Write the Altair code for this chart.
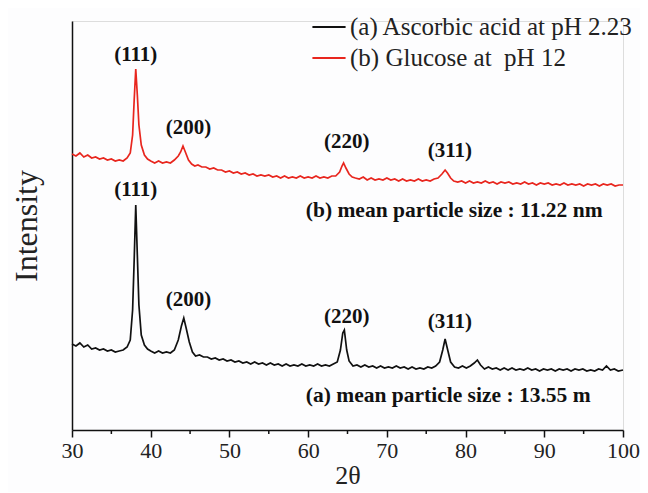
import altair as alt
import pandas as pd

# 2-theta positions and intensities (a.u.)
x_red = [30, 30.5, 31, 31.5, 32, 32.5, 33, 33.5, 34, 34.5, 35, 35.5, 36, 36.5, 37, 37.4, 37.7, 37.9, 38.1, 38.3,
         38.5, 38.8, 39.2, 39.6, 40, 40.5, 41, 41.5, 42, 42.5, 43, 43.5, 43.8, 44.1, 44.4, 44.8, 45.2, 45.6, 46, 46.5,
         47, 47.5, 48, 48.5, 49, 49.5, 50, 50.5, 51, 51.5, 52, 52.5, 53, 53.5, 54, 54.5, 55, 55.5, 56, 56.5,
         57, 57.5, 58, 58.5, 59, 59.5, 60, 60.5, 61, 61.5, 62, 62.5, 63, 63.5, 64.0, 64.3, 64.5, 64.8, 65.2, 65.6,
         66, 66.5, 67, 67.5, 68, 68.5, 69, 69.5, 70, 70.5, 71, 71.5, 72, 72.5, 73, 73.5, 74, 74.5, 75, 75.5,
         76, 76.5, 77, 77.4, 77.7, 78.1, 78.5, 79, 79.5, 80, 80.5, 81, 81.5, 82, 82.5, 83, 83.5, 84, 84.5, 85,
         85.5, 86, 86.5, 87, 87.5, 88, 88.5, 89, 89.5, 90, 90.5, 91, 91.5, 92, 92.5, 93, 93.5, 94, 94.5, 95,
         95.5, 96, 96.5, 97, 97.5, 98, 98.5, 99, 99.5, 100]
i_red = [276, 274, 277, 273, 275, 272, 273, 271, 272, 270, 271, 269, 270, 269, 272, 277, 295, 330, 361, 335,
         305, 285, 275, 271, 269, 267, 269, 267, 268, 267, 270, 274, 278, 284, 278, 270, 266, 264, 265, 263,
         263, 261, 262, 260, 260, 258, 259, 257, 258, 256, 257, 255, 256, 254, 255, 254, 255, 253, 254, 252,
         254, 252, 253, 252, 254, 252, 253, 252, 254, 252, 253, 252, 254, 254, 258, 264, 267, 262, 256, 253,
         252, 251, 253, 250, 252, 250, 251, 250, 252, 250, 251, 249, 251, 249, 250, 249, 251, 249, 250, 249,
         251, 252, 256, 260, 257, 252, 249, 248, 249, 247, 249, 247, 248, 247, 249, 247, 248, 246, 248, 247,
         248, 246, 247, 246, 248, 246, 247, 245, 247, 246, 247, 245, 246, 245, 247, 245, 246, 245, 246, 244,
         246, 245, 246, 244, 246, 245, 246, 244, 245, 245]

x_black = [30, 30.5, 31, 31.5, 32, 32.5, 33, 33.5, 34, 34.5, 35, 35.5, 36, 36.5, 37, 37.4, 37.7, 37.9, 38.1, 38.3,
           38.5, 38.8, 39.2, 39.6, 40, 40.5, 41, 41.5, 42, 42.5, 43, 43.5, 43.9, 44.2, 44.5, 44.9, 45.3, 45.7, 46.2, 46.7,
           47.2, 47.7, 48.2, 48.7, 49.2, 49.7, 50.2, 50.7, 51.2, 51.7, 52.2, 52.7, 53.2, 53.7, 54.2, 54.7, 55.2, 55.7, 56.2, 56.7,
           57.2, 57.7, 58.2, 58.7, 59.2, 59.7, 60.2, 60.7, 61.2, 61.7, 62.2, 62.7, 63.2, 63.7, 64.1, 64.4, 64.6, 64.9, 65.2, 65.7,
           66.2, 66.7, 67.2, 67.7, 68.2, 68.7, 69.2, 69.7, 70.2, 70.7, 71.2, 71.7, 72.2, 72.7, 73.2, 73.7, 74.2, 74.7, 75.2, 75.7,
           76.2, 76.7, 77.1, 77.4, 77.7, 78.1, 78.6, 79.1, 79.6, 80.1, 80.6, 81.1, 81.5, 81.9, 82.4, 82.9, 83.4, 83.9, 84.4, 84.9,
           85.4, 85.9, 86.4, 86.9, 87.4, 87.9, 88.4, 88.9, 89.4, 89.9, 90.4, 90.9, 91.4, 91.9, 92.4, 92.9, 93.4, 93.9, 94.4, 94.9,
           95.4, 95.9, 96.4, 96.9, 97.4, 97.9, 98.4, 98.9, 99.4, 100]
i_black = [86, 84, 87, 83, 85, 81, 82, 80, 81, 79, 80, 78, 79, 80, 83, 90, 120, 170, 225, 175,
           125, 95, 85, 81, 79, 77, 79, 77, 78, 77, 80, 90, 104, 112, 102, 88, 78, 74, 75, 73,
           73, 71, 72, 70, 71, 69, 70, 68, 69, 67, 68, 66, 68, 66, 67, 65, 67, 65, 66, 64,
           66, 64, 65, 64, 66, 64, 65, 64, 66, 64, 65, 64, 66, 68, 80, 97, 100, 80, 69, 64,
           65, 63, 65, 63, 64, 62, 64, 62, 63, 62, 64, 62, 63, 61, 63, 61, 62, 61, 63, 62,
           64, 68, 80, 91, 81, 68, 63, 62, 64, 62, 64, 67, 70, 65, 61, 63, 61, 62, 60, 62,
           60, 62, 60, 61, 60, 62, 60, 61, 59, 61, 60, 61, 59, 61, 60, 61, 59, 61, 60, 61,
           59, 60, 59, 61, 60, 64, 60, 61, 59, 60]

series_names = ["(a) Ascorbic acid at pH 2.23", "(b) Glucose at\u00a0 pH 12"]
series_colors = ["#111111", "#e8261e"]

label_x = [38.1, 44.8, 64.9, 78.0, 38.1, 44.8, 64.9, 78.0]
label_y = [375, 302, 288, 279, 240, 130, 113, 108]
label_text = ["(111)", "(200)", "(220)", "(311)", "(111)", "(200)", "(220)", "(311)"]

note_x = [59.7, 59.7]
note_y = [219, 34]
note_text = ["(b) mean particle size : 11.22 nm", "(a) mean particle size : 13.55 m"]

major_ticks = [30, 40, 50, 60, 70, 80, 90, 100]
minor_ticks = [35, 45, 55, 65, 75, 85, 95]

W, H = 551, 409
FONT = "Liberation Serif"

lines = pd.concat([
    pd.DataFrame({"x": x_black, "y": i_black, "s": series_names[0], "o": range(len(x_black))}),
    pd.DataFrame({"x": x_red, "y": i_red, "s": series_names[1], "o": range(len(x_red))}),
])
labels = pd.DataFrame({"x": label_x, "y": label_y, "t": label_text})
notes = pd.DataFrame({"x": note_x, "y": note_y, "t": note_text})
minors = pd.DataFrame({"x": minor_ticks})

xs = alt.Scale(domain=[30, 100], nice=False, zero=False)
ys = alt.Scale(domain=[0, 409], nice=False, zero=False)

line = alt.Chart(lines).mark_line(strokeWidth=1.7).encode(
    x=alt.X("x:Q", scale=xs, axis=alt.Axis(
        values=major_ticks, title="2θ", grid=False, tickSize=7, tickWidth=1.5, tickColor="#111",
        domainColor="#111", domainWidth=1.5, labelFont=FONT, labelFontSize=22, labelColor="#222",
        labelFlush=False, labelOverlap=False,
        labelPadding=3, titleFont=FONT, titleFontSize=26, titleFontWeight="normal", titleColor="#222",
        titlePadding=1)),
    y=alt.Y("y:Q", scale=ys, axis=alt.Axis(
        labels=False, ticks=False, grid=False, domainColor="#111", domainWidth=1.5,
        title="Intensity", titleFont=FONT, titleFontSize=32, titleFontWeight="normal", titleColor="#222",
        titlePadding=29)),
    color=alt.Color("s:N", scale=alt.Scale(domain=series_names, range=series_colors),
                    legend=alt.Legend(title=None, orient="none", legendX=239, legendY=-12,
                                      symbolType="stroke", symbolSize=1100, symbolStrokeWidth=2,
                                      labelFont=FONT, labelFontSize=25, labelColor="#222",
                                      labelOffset=3, rowPadding=-3, padding=0, labelLimit=500)),
    order="o:Q",
)

minor = alt.Chart(minors).mark_rule(color="#111", strokeWidth=1.5).encode(
    x=alt.X("x:Q", scale=xs), y=alt.value(H), y2=alt.value(H + 4))

peak_txt = alt.Chart(labels).mark_text(font=FONT, fontSize=21, fontWeight="bold", color="#111",
                                       baseline="middle", align="center").encode(
    x=alt.X("x:Q", scale=xs), y=alt.Y("y:Q", scale=ys), text="t:N")

note_txt = alt.Chart(notes).mark_text(font=FONT, fontSize=21.5, fontWeight="bold", color="#111",
                                      baseline="middle", align="left").encode(
    x=alt.X("x:Q", scale=xs), y=alt.Y("y:Q", scale=ys), text="t:N")

chart = alt.layer(line, minor, peak_txt, note_txt).properties(
    width=W, height=H,
    autosize=alt.AutoSizeParams(type="none"),
    padding={"left": 64, "top": 13, "right": 17, "bottom": 62},
).configure_view(stroke=None).configure(background="#fdfdfe")

chart.save("out.html", embed_options={"renderer": "svg", "actions": False})
